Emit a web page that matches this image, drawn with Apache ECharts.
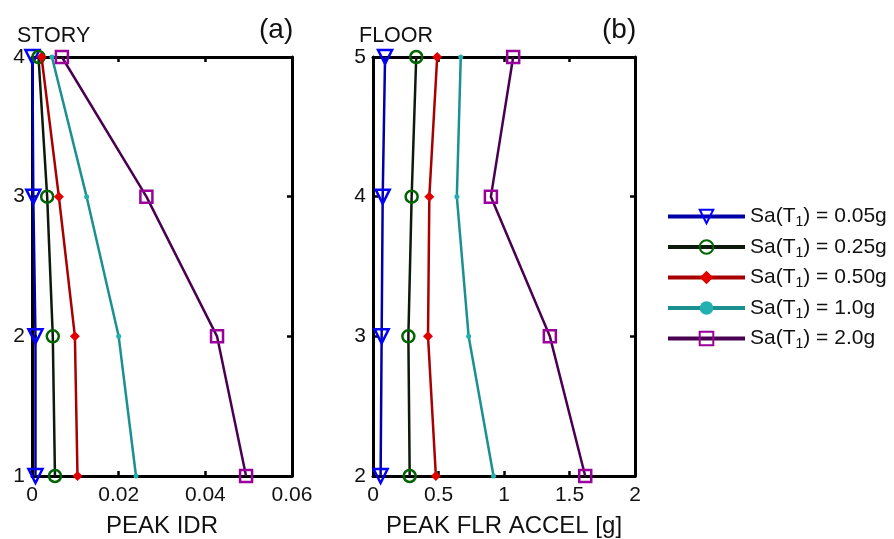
<!DOCTYPE html>
<html>
<head>
<meta charset="utf-8">
<script src="https://cdn.jsdelivr.net/npm/echarts@6/dist/echarts.min.js"></script>
<style>
  html, body { margin: 0; padding: 0; background: #fff; }
  #chart { width: 894px; height: 539px; }
</style>
</head>
<body>
<div id="chart"></div>
<script>
// Ground-motion intensity levels
const levels = ['0.05g', '0.25g', '0.50g', '1.0g', '2.0g'];

// Panel (a): peak inter-story drift ratio, stories 1..4
const stories = [1, 2, 3, 4];
const idr005 = [0.0008, 0.0008, 0.0003, 0.0001];
const idr025 = [0.0053, 0.0048, 0.0035, 0.0015];
const idr050 = [0.0105, 0.0099, 0.0062, 0.0022];
const idr100 = [0.0240, 0.0200, 0.0126, 0.0046];
const idr200 = [0.0494, 0.0427, 0.0264, 0.0069];

// Panel (b): peak floor acceleration [g], floors 2..5
const floors = [2, 3, 4, 5];
const pfa005 = [0.058, 0.066, 0.074, 0.092];
const pfa025 = [0.28, 0.27, 0.295, 0.33];
const pfa050 = [0.48, 0.42, 0.43, 0.49];
const pfa100 = [0.92, 0.73, 0.64, 0.67];
const pfa200 = [1.62, 1.35, 0.90, 1.07];

const idrSets = [idr005, idr025, idr050, idr100, idr200];
const pfaSets = [pfa005, pfa025, pfa050, pfa100, pfa200];

const styles = [
  { line: '#0000a8', mark: '#0000ff', symbol: 'triangle', size: 14, rotate: 180, hollow: true },
  { line: '#0c1a0c', mark: '#006400', symbol: 'circle', size: 12, rotate: 0, hollow: true },
  { line: '#a80000', mark: '#e00000', symbol: 'diamond', size: 10, rotate: 0, hollow: false },
  { line: '#1a9090', mark: '#22b0b0', symbol: 'circle', size: 5, rotate: 0, hollow: false },
  { line: '#4a0050', mark: '#990099', symbol: 'rect', size: 12, rotate: 0, hollow: true }
];

const FONT = 'Liberation Sans, Arial, Helvetica, sans-serif';

function pairs(xs, ys) { return xs.map((v, i) => [v, ys[i]]); }

function makeSeries(idx, xIdx, yIdx, xs, ys) {
  const s = styles[idx];
  return {
    name: levels[idx],
    type: 'line',
    xAxisIndex: xIdx,
    yAxisIndex: yIdx,
    data: pairs(xs, ys),
    symbol: s.symbol,
    symbolSize: s.size,
    symbolRotate: s.rotate,
    showSymbol: true,
    clip: false,
    lineStyle: { color: s.line, width: 2.5 },
    itemStyle: s.hollow
      ? { color: 'rgba(255,255,255,0)', borderColor: s.mark, borderWidth: 2.5 }
      : { color: s.mark, borderColor: s.mark, borderWidth: 0 },
    emphasis: { disabled: true },
    z: 3 + idx
  };
}

const axisLine = { show: true, onZero: false, lineStyle: { color: '#000', width: 3 } };
const tickIn = { show: true, inside: true, length: 5, lineStyle: { color: '#000', width: 2.5 } };
const lbl = { color: '#111', fontSize: 21, fontFamily: FONT };

function xPair(gridIndex, max, interval, name) {
  return [
    {
      type: 'value', gridIndex, position: 'bottom', min: 0, max, interval,
      axisLine, axisTick: tickIn, splitLine: { show: false },
      axisLabel: Object.assign({ margin: 9 }, lbl),
      name, nameLocation: 'middle', nameGap: 38,
      nameTextStyle: { color: '#111', fontSize: 24, fontFamily: FONT }
    },
    {
      type: 'value', gridIndex, position: 'top', min: 0, max, interval,
      axisLine, axisTick: tickIn, splitLine: { show: false },
      axisLabel: { show: false }
    }
  ];
}

function yPair(gridIndex, min, max) {
  return [
    {
      type: 'value', gridIndex, position: 'left', min, max, interval: 1,
      axisLine, axisTick: tickIn, splitLine: { show: false },
      axisLabel: Object.assign({ margin: 7 }, lbl)
    },
    {
      type: 'value', gridIndex, position: 'right', min, max, interval: 1,
      axisLine, axisTick: tickIn, splitLine: { show: false },
      axisLabel: { show: false }
    }
  ];
}

const series = [];
idrSets.forEach((xs, i) => series.push(makeSeries(i, 0, 0, xs, stories)));
pfaSets.forEach((xs, i) => {
  const s = makeSeries(i, 2, 2, xs, floors);
  s.legendHoverLink = false;
  series.push(s);
});

const titleStyle = size => ({ fontSize: size, fontWeight: 'normal', color: '#111', fontFamily: FONT });

const chart = echarts.init(document.getElementById('chart'), null, { renderer: 'canvas' });
chart.setOption({
  animation: false,
  backgroundColor: '#fff',
  grid: [
    { left: 32, right: 602, top: 57, bottom: 63, containLabel: false, outerBoundsMode: 'none' },
    { left: 373, right: 259, top: 57, bottom: 63, containLabel: false, outerBoundsMode: 'none' }
  ],
  xAxis: [...xPair(0, 0.06, 0.02, 'PEAK IDR'), ...xPair(1, 2, 0.5, 'PEAK FLR ACCEL [g]')],
  yAxis: [...yPair(0, 1, 4), ...yPair(1, 2, 5)],
  title: [
    { text: 'STORY', left: 12, top: 20, textStyle: titleStyle(21.5) },
    { text: '(a)', left: 254, top: 11, textStyle: titleStyle(28) },
    { text: 'FLOOR', left: 354, top: 20, textStyle: titleStyle(21.5) },
    { text: '(b)', left: 597, top: 11, textStyle: titleStyle(28) }
  ],
  legend: {
    orient: 'vertical',
    left: 666,
    top: 206,
    padding: 0,
    itemWidth: 77,
    itemHeight: 17,
    itemGap: 7,
    selectedMode: false,
    data: levels,
    lineStyle: { width: 4 },
    formatter: name => 'Sa(T{sub|1}) = ' + name,
    textStyle: {
      fontSize: 21, color: '#111', fontFamily: FONT,
      rich: { sub: { fontSize: 14, verticalAlign: 'bottom', padding: [12, 0, 0, 0], fontFamily: FONT, color: '#111' } }
    }
  },
  series
});
</script>
</body>
</html>
